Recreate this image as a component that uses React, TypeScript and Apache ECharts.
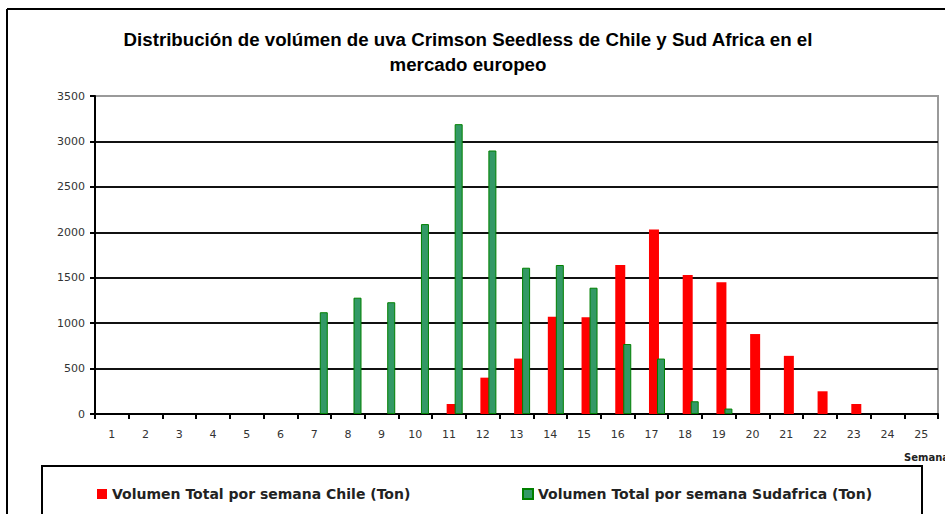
import React, { useEffect, useRef } from "react";
import * as echarts from "echarts";

const weeks = ["1", "2", "3", "4", "5", "6", "7", "8", "9", "10", "11", "12", "13", "14", "15", "16", "17", "18", "19", "20", "21", "22", "23", "24", "25"];
const chile = [null, null, null, null, null, null, null, null, null, null, 110, 400, 610, 1070, 1065, 1640, 2030, 1530, 1450, 880, 640, 250, 110, null, null];
const sudafrica = [null, null, null, null, null, null, 1120, 1280, 1230, 2090, 3190, 2900, 1610, 1640, 1390, 770, 610, 140, 60, null, null, null, null, null, null];
const yTicks = { min: 0, max: 3500, interval: 500 };

const titleText = "Distribución de volúmen de uva Crimson Seedless de Chile y Sud Africa en el\nmercado europeo";
const chileName = "Volumen Total por semana Chile (Ton)";
const sudName = "Volumen Total por semana Sudafrica (Ton)";
const axisName = "Semana";

export default function App() {
  const ref = useRef<HTMLDivElement>(null);
  useEffect(() => {
    if (!ref.current) return;
    const chart = echarts.init(ref.current, undefined, { renderer: "svg" });
    const labelFont = { fontFamily: "DejaVu Sans", fontSize: 11, color: "#333" };
    const legendText = { fontFamily: "DejaVu Sans", fontSize: 14, fontWeight: "bold" as const, color: "#222" };
    chart.setOption({
      animation: false,
      backgroundColor: "#fff",
      grid: {
        left: 95, right: 7, top: 96, bottom: 100,
        show: true, borderColor: "#9a9a9a", borderWidth: 2, backgroundColor: "transparent",
      },
      xAxis: {
        type: "category",
        data: weeks,
        boundaryGap: true,
        axisLine: { lineStyle: { color: "#000", width: 2 } },
        axisTick: { show: true, alignWithLabel: false, length: 5, lineStyle: { color: "#000", width: 2 } },
        axisLabel: { ...labelFont, margin: 15, interval: 0 },
        splitLine: { show: false },
      },
      yAxis: {
        type: "value",
        min: yTicks.min, max: yTicks.max, interval: yTicks.interval,
        axisLine: { show: true, lineStyle: { color: "#000", width: 2 } },
        axisTick: { show: true, length: 5, lineStyle: { color: "#000", width: 2 } },
        axisLabel: { ...labelFont, margin: 10, formatter: (v: number) => String(v) },
        splitLine: { show: true, showMaxLine: false, showMinLine: false, lineStyle: { color: "#111", width: 2 } },
      },
      legend: [
        {
          data: [chileName], left: 97, top: 487, itemWidth: 10, itemHeight: 10, icon: "rect",
          textStyle: legendText, itemGap: 0, padding: 0,
        },
        {
          data: [sudName], left: 522, top: 487, itemWidth: 10, itemHeight: 10, icon: "rect",
          textStyle: legendText, itemGap: 0, padding: 0,
        },
      ],
      series: [
        { name: "_spacer", type: "bar", data: [], barWidth: 14, barGap: "-20%", silent: true },
        {
          name: chileName, type: "bar", data: chile, barWidth: 10, barGap: "-20%",
          itemStyle: { color: "#ff0000" },
        },
        {
          name: sudName, type: "bar", data: sudafrica, barWidth: 8, barGap: "-20%",
          itemStyle: { color: "#339966", borderColor: "#008000", borderWidth: 1 },
        },
      ],
      graphic: [
        { type: "line", shape: { x1: 7, y1: 9, x2: 945, y2: 9 }, style: { stroke: "#000", lineWidth: 2 } },
        { type: "line", shape: { x1: 7, y1: 9, x2: 7, y2: 514 }, style: { stroke: "#000", lineWidth: 2 } },
        {
          type: "rect", shape: { x: 42, y: 466, width: 880, height: 70 },
          style: { fill: "none", stroke: "#000", lineWidth: 2 }, z: -1,
        },
        {
          type: "text", x: 468, y: 27,
          style: {
            text: titleText, textAlign: "center", textVerticalAlign: "top",
            font: "bold 18.7px 'Liberation Sans', Arial, sans-serif",
            lineHeight: 25, fill: "#000",
          },
        },
        {
          type: "text", x: 904, y: 452,
          style: { text: axisName, font: "bold 10px 'DejaVu Sans'", fill: "#222" },
        },
      ],
    });
    return () => chart.dispose();
  }, []);
  return <div ref={ref} style={{ position: "fixed", left: 0, top: 0, width: 945, height: 514 }} />;
}
